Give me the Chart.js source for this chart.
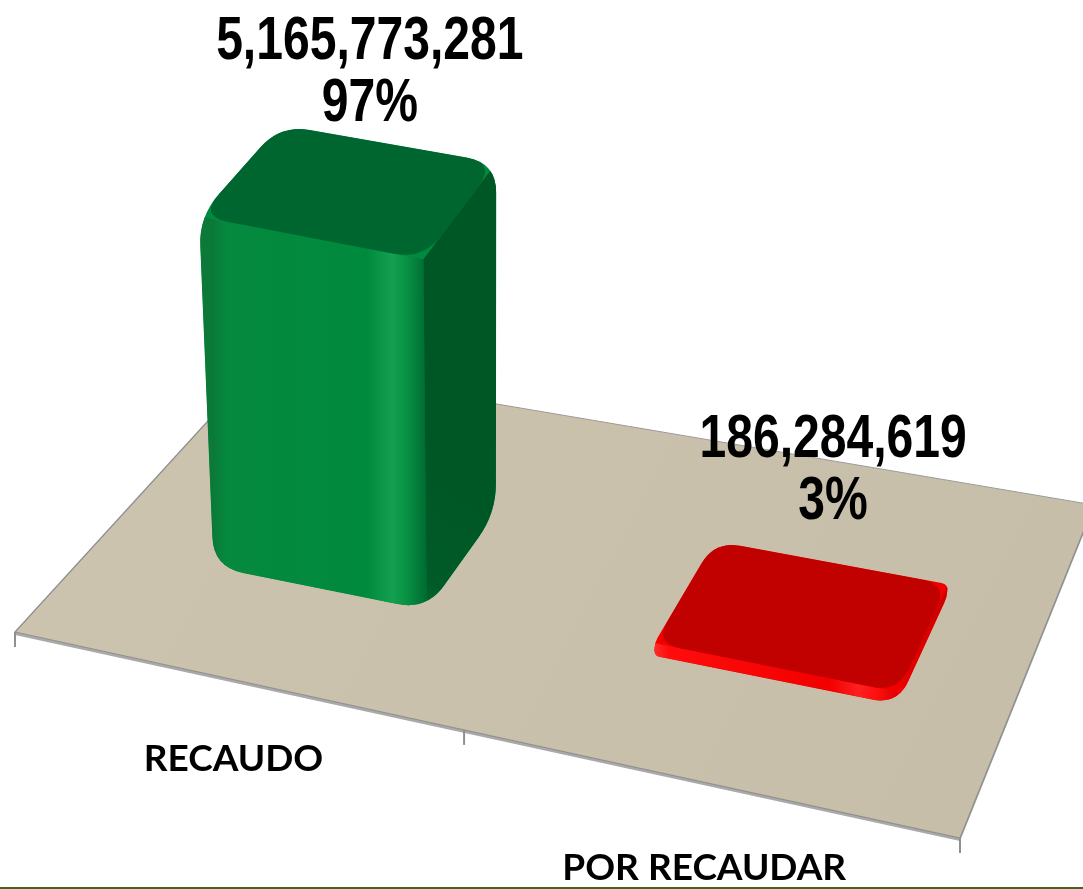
<!DOCTYPE html>
<html><head><meta charset="utf-8">
<script src="https://cdn.jsdelivr.net/npm/chart.js@4.4.1/dist/chart.umd.min.js"></script>
<style>html,body{margin:0;padding:0;background:#fff;overflow:hidden}canvas{display:block}</style>
</head><body>
<canvas id="c" width="1083" height="889"></canvas>
<script>
// ---- data ----
const categories = ['RECAUDO', 'POR RECAUDAR'];
const amounts = [5165773281, 186284619];
const shares = ['97%', '3%'];
const valueAxisMax = 13.1e9;

// ---- styling (not data) ----
const floorCorners = {fl:[15,632], fr:[960,838], br:[1094,505], bl:[260,364]};
const depthRange = [0.30, 0.63];
const uShift = 0.02;
const leanK = 0.00015, leanX = 490;
const palettes = [
  {front:['#0b7a39','#05893f','#008a3e','#14a050','#079043','#006a30'], side:['#006a30','#005b28','#005726'], top:'#00662f', r:30},
  {front:['#ff2a2a','#ff0d0d','#f20000','#ff2020','#ff1010','#e00000'], side:['#ff1010','#e40000','#d00000'], top:'#c10000', r:26}
];

function makeHomography(p0,p1,p2,p3){
  const [x0,y0]=p0,[x1,y1]=p1,[x2,y2]=p2,[x3,y3]=p3;
  const dx1=x1-x2, dx2=x3-x2, dx3=x0-x1+x2-x3;
  const dy1=y1-y2, dy2=y3-y2, dy3=y0-y1+y2-y3;
  const den=dx1*dy2-dx2*dy1;
  const g=(dx3*dy2-dx2*dy3)/den, h=(dx1*dy3-dx3*dy1)/den;
  const a=x1-x0+g*x1, b=x3-x0+h*x3, c=x0;
  const d=y1-y0+g*y1, e=y3-y0+h*y3, f=y0;
  return (u,w)=>{const z=g*u+h*w+1; return [(a*u+b*w+c)/z,(d*u+e*w+f)/z];};
}
function roundPoly(ctx, pts, T){
  const n=pts.length; ctx.beginPath();
  for(let i=0;i<n;i++){
    const p=pts[(i-1+n)%n], c=pts[i], q=pts[(i+1)%n];
    const l1=Math.hypot(c[0]-p[0],c[1]-p[1])||1, l2=Math.hypot(q[0]-c[0],q[1]-c[1])||1;
    const t=Math.min(T, l1*0.5, l2*0.5);
    const a=[c[0]+(p[0]-c[0])*t/l1, c[1]+(p[1]-c[1])*t/l1];
    const b=[c[0]+(q[0]-c[0])*t/l2, c[1]+(q[1]-c[1])*t/l2];
    if(i===0) ctx.moveTo(a[0],a[1]); else ctx.lineTo(a[0],a[1]);
    ctx.quadraticCurveTo(c[0],c[1],b[0],b[1]);
  }
  ctx.closePath();
}
function poly(ctx, pts){ctx.beginPath();pts.forEach((p,i)=>i?ctx.lineTo(p[0],p[1]):ctx.moveTo(p[0],p[1]));ctx.closePath();}
function up(p,h){return [p[0]+(p[0]-leanX)*h*leanK, p[1]-h];}

function floorMap(area){
  const s=(p)=>[area.left+p[0]*area.width/1083, area.top+p[1]*area.height/889];
  return makeHomography(s(floorCorners.fl), s(floorCorners.fr), s(floorCorners.br), s(floorCorners.bl));
}

const scenePlugin = {
  id:'scene3d',
  beforeDatasetsDraw(chart){
    const ctx=chart.ctx, area=chart.chartArea, P=floorMap(area);
    const FL=P(0,0), FR=P(1,0), BR=P(1,1), BL=P(0,1);
    ctx.save();
    // floor thickness
    poly(ctx,[FL,FR,[FR[0],FR[1]+3],[FL[0],FL[1]+3]]); ctx.fillStyle='#a9a9a9'; ctx.fill();
    poly(ctx,[FR,BR,[BR[0],BR[1]+3],[FR[0],FR[1]+3]]); ctx.fillStyle='#a0a0a0'; ctx.fill();
    // floor top
    poly(ctx,[FL,FR,BR,BL]);
    const fg=ctx.createLinearGradient(FL[0],BL[1],FR[0],FR[1]);
    fg.addColorStop(0,'#ccc4af'); fg.addColorStop(0.5,'#c9c1ab'); fg.addColorStop(1,'#c6bea8');
    ctx.fillStyle=fg; ctx.fill();
    ctx.strokeStyle='#8e8e8e'; ctx.lineWidth=1.2;
    ctx.beginPath(); ctx.moveTo(BL[0],BL[1]); ctx.lineTo(FL[0],FL[1]); ctx.lineTo(FR[0],FR[1]); ctx.lineTo(BR[0],BR[1]); ctx.stroke();
    ctx.strokeStyle='#9a9a9a'; ctx.lineWidth=1;
    ctx.beginPath(); ctx.moveTo(BL[0],BL[1]); ctx.lineTo(BR[0],BR[1]); ctx.stroke();
    // category ticks at category boundaries
    const n=categories.length;
    ctx.strokeStyle='#8f8f8f'; ctx.lineWidth=2;
    for(let i=0;i<=n;i++){
      const p=P(i/n+(i>0&&i<n?0.01:0),0);
      ctx.beginPath(); ctx.moveTo(p[0],p[1]); ctx.lineTo(p[0],p[1]+15); ctx.stroke();
    }
    // category labels
    const xs=chart.scales.x;
    ctx.fillStyle='#000'; ctx.font='bold 37px Lato, "Open Sans", sans-serif';
    ctx.textAlign='center'; ctx.textBaseline='middle';
    categories.forEach((c,i)=>{
      const u=(xs.getPixelForValue(i)-area.left)/area.width;
      const p=P(u,0);
      ctx.fillText(c, p[0]+6, p[1]+77+14*u);
    });
    ctx.restore();
  },
  afterDatasetsDraw(chart){
    const ctx=chart.ctx, area=chart.chartArea, P=floorMap(area);
    const meta=chart.getDatasetMeta(0);
    ctx.save();
    meta.data.forEach((el,i)=>{
      const pr=el.getProps(['x','y','base','width'],true);
      const u0=(pr.x-pr.width/2-area.left)/area.width+uShift, u1=(pr.x+pr.width/2-area.left)/area.width+uShift;
      const [w0,w1]=depthRange;
      const h=pr.base-pr.y;
      const pal=palettes[i%palettes.length];
      const Bfl=P(u0,w0), Bfr=P(u1,w0), Bbr=P(u1,w1), Bbl=P(u0,w1);
      const Tfl=up(Bfl,h), Tfr=up(Bfr,h), Tbr=up(Bbr,h), Tbl=up(Bbl,h);
      const r=pal.r;
      ctx.save();
      roundPoly(ctx,[Bfl,Bfr,Bbr,Tbr,Tbl,Tfl],r);
      ctx.fillStyle=pal.front[2]; ctx.fill();
      ctx.clip();
      // front face
      const fgr=ctx.createLinearGradient(Bfl[0],0,Bfr[0],0);
      [0,0.06,0.72,0.84,0.91,1].forEach((s,k)=>fgr.addColorStop(s,pal.front[k]));
      poly(ctx,[Bfl,Bfr,Tfr,Tfl]); ctx.fillStyle=fgr; ctx.fill();
      // right face
      const sgr=ctx.createLinearGradient(Bfr[0],Bfr[1],Bbr[0],Bbr[1]);
      sgr.addColorStop(0,pal.side[0]); sgr.addColorStop(0.2,pal.side[1]); sgr.addColorStop(1,pal.side[2]);
      poly(ctx,[Bfr,Bbr,Tbr,Tfr]); ctx.fillStyle=sgr; ctx.fill();
      // top face
      roundPoly(ctx,[Tfl,Tfr,Tbr,Tbl],r);
      ctx.fillStyle=pal.top; ctx.fill();
      ctx.restore();
      // value labels
      const cx=(Tfr[0]+Tbr[0])/2-90;
      const backTop=up(P((u0+u1)/2,w1),h);
      ctx.fillStyle='#000';
      ctx.font='bold 62px "Liberation Sans", Arial, sans-serif';
      ctx.textAlign='center'; ctx.textBaseline='alphabetic';
      const lines=[amounts[i].toLocaleString('en-US'), shares[i]];
      const bottom=backTop[1]-(44-0.06*h);
      lines.forEach((t,k)=>{
        const yb=bottom-(lines.length-1-k)*62;
        ctx.save(); ctx.translate(cx,yb); ctx.scale(0.775,1); ctx.fillText(t,0,0); ctx.restore();
      });
    });
    // slide border line at bottom
    ctx.fillStyle='#4a5e22'; ctx.fillRect(0,chart.height-2,chart.width,2);
    ctx.restore();
  }
};

new Chart(document.getElementById('c'),{
  type:'bar',
  data:{labels:categories, datasets:[{data:amounts, backgroundColor:'rgba(0,0,0,0)', borderWidth:0, barPercentage:0.5, categoryPercentage:1}]},
  options:{
    responsive:false, animation:false,
    layout:{padding:0},
    plugins:{legend:{display:false}, tooltip:{enabled:false}, title:{display:false}},
    scales:{
      x:{display:false, offset:true},
      y:{display:false, min:0, max:valueAxisMax}
    }
  },
  plugins:[scenePlugin]
});
</script>
</body></html>
